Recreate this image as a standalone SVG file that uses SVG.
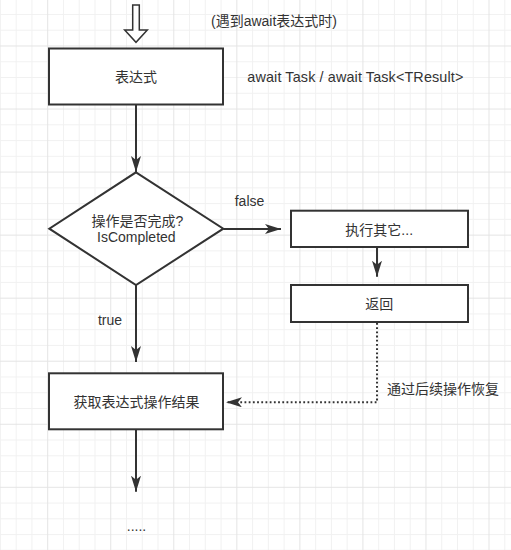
<svg xmlns="http://www.w3.org/2000/svg" width="511" height="550" viewBox="0 0 511 550">
  <defs>
    <pattern id="grid" patternUnits="userSpaceOnUse" x="-15.84" y="-17.55" width="63.044" height="63.044">
      <rect x="15.76" y="0" width="1" height="63.044" fill="#f1f1f1"/>
      <rect x="31.52" y="0" width="1" height="63.044" fill="#f1f1f1"/>
      <rect x="47.28" y="0" width="1" height="63.044" fill="#f1f1f1"/>
      <rect x="0" y="15.76" width="63.044" height="1" fill="#f1f1f1"/>
      <rect x="0" y="31.52" width="63.044" height="1" fill="#f1f1f1"/>
      <rect x="0" y="47.28" width="63.044" height="1" fill="#f1f1f1"/>
      <rect x="0" y="0" width="1" height="63.044" fill="#e4e4e4"/>
      <rect x="0" y="0" width="63.044" height="1" fill="#e4e4e4"/>
    </pattern>
    <marker id="arrow" markerUnits="userSpaceOnUse" viewBox="0 0 16 10" markerWidth="16" markerHeight="10" refX="16" refY="5" orient="auto">
      <path d="M0,0 L16,5 L0,10 L4,5 Z" fill="#333333" stroke="none"/>
    </marker>
    <style>
      .box { fill: #ffffff; stroke: #333333; stroke-width: 2; }
      .conn { fill: none; stroke: #333333; stroke-width: 2; }
      .dot { fill: none; stroke: #333333; stroke-width: 2; stroke-dasharray: 1.8 2.4; }
      text { font-family: "Liberation Sans", "Noto Sans CJK SC", sans-serif; font-size: 14px; fill: #333333; dominant-baseline: central; }
      .c { text-anchor: middle; }
    </style>
  </defs>
  <rect x="0" y="0" width="511" height="550" fill="#ffffff"/>
  <rect x="0" y="0" width="511" height="550" fill="url(#grid)"/>

  <g id="connectors">
    <polygon id="entry-arrow" points="132.7,5 139.3,5 139.3,30 147.3,30 136,42.3 124.7,30 132.7,30" fill="#ffffff" stroke="#333333" stroke-width="1.5"/>
    <line class="conn" x1="136" y1="104.7" x2="136" y2="172" marker-end="url(#arrow)"/>
    <line class="conn" x1="223.3" y1="229" x2="281" y2="229" marker-end="url(#arrow)"/>
    <line class="conn" x1="377" y1="247" x2="377" y2="276.7" marker-end="url(#arrow)"/>
    <line class="conn" x1="136" y1="285" x2="136" y2="362" marker-end="url(#arrow)"/>
    <line class="conn" x1="136" y1="429.3" x2="136" y2="491.7" marker-end="url(#arrow)"/>
    <path class="dot" d="M377,323 V402.3 H226" marker-end="url(#arrow)"/>
    <text x="274" y="20.7" class="c">(遇到await表达式时)</text>
    <text x="249.5" y="200.7" class="c">false</text>
    <text x="110" y="320" class="c">true</text>
    <text x="387" y="389.3">通过后续操作恢复</text>
  </g>

  <g id="expr">
    <rect class="box" x="49" y="48.5" width="174" height="56"/>
    <text x="136" y="76.5" class="c">表达式</text>
  </g>
  <g id="expr-note">
    <text x="247.3" y="76.5" style="font-size:14.4px" textLength="216" lengthAdjust="spacing">await Task / await Task&lt;TResult&gt;</text>
  </g>
  <g id="decision">
    <polygon class="box" points="136,172.3 223.3,228.7 136,285 49.3,228.7"/>
    <text x="137.5" y="221" class="c">操作是否完成?</text>
    <text x="136.3" y="236.5" class="c">IsCompleted</text>
  </g>
  <g id="other">
    <rect class="box" x="291" y="210.7" width="177" height="36.3"/>
    <text x="379.2" y="230" class="c">执行其它...</text>
  </g>
  <g id="return">
    <rect class="box" x="291" y="285" width="177" height="37"/>
    <text x="379.2" y="304" class="c">返回</text>
  </g>
  <g id="result">
    <rect class="box" x="49" y="373.3" width="174" height="56"/>
    <text x="136.5" y="402" class="c">获取表达式操作结果</text>
  </g>
  <g id="more">
    <text x="136.5" y="526" class="c">.....</text>
  </g>
</svg>
